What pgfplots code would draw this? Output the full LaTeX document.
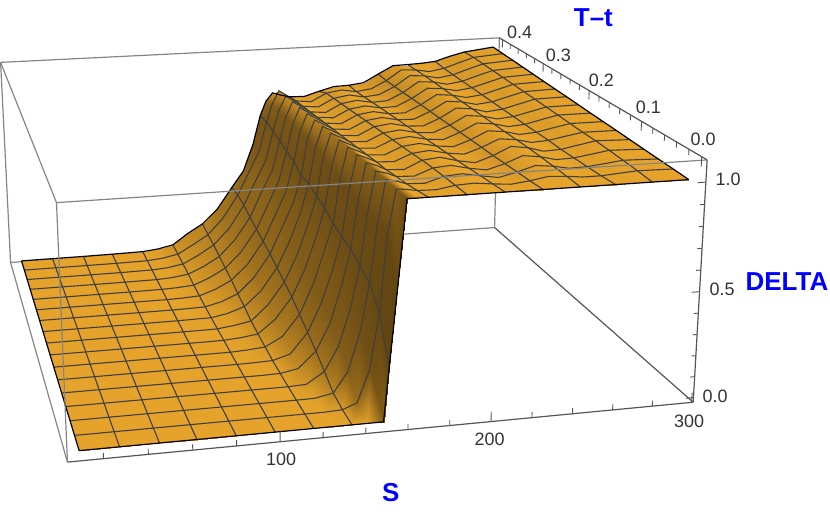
\documentclass[border=0pt]{standalone}
\usepackage{pgfplots}
\usepackage{pgfplotstable}
\pgfplotsset{compat=1.18}
\usepackage{fontspec}
\setmainfont{Liberation Sans}
\definecolor{boxgray}{HTML}{858585}
\definecolor{axdark}{HTML}{555555}
\definecolor{ticktxt}{HTML}{333333}
\definecolor{meshc}{HTML}{3F3F3F}

% camera: box fractions u,v,w and image pixels
\newcommand\pu[1]{(.02+.00337*(#1-10))}
\newcommand\pv[1]{(.02+2.4*(#1))}
\newcommand\pw[1]{(.02+.8914*(#1))}
\newcommand\den[3]{(1+.07791*\pu{#1}+.32475*\pv{#2}-.04*\pw{#3})}
\newcommand\imx[3]{((66+680.99*\pu{#1}-54.08*\pv{#2}-13.2*\pw{#3})/\den{#1}{#2}{#3})}
\newcommand\imy[3]{(512-(463-28.6*\pu{#1}-114.59*\pv{#2}-268.12*\pw{#3})/\den{#1}{#2}{#3})}

\pgfplotstableread[row sep=\\]{
S T D\\
10 .4 0\\ 28 .4 0\\ 46 .4 0\\ 63 .4 .001\\ 81 .4 .003\\ 90 .4 .012\\ 99 .4 .03\\ 108 .4 .09\\ 117 .4 .14\\ 126 .4 .22\\ 135 .4 .34\\ 142 .4 .43\\ 148 .4 .58\\ 152.5 .4 .74\\ 156 .4 .82\\ 160 .4 .865\\ 165 .4 .85\\ 170 .4 .838\\ 179 .4 .835\\ 188 .4 .86\\ 197 .4 .882\\ 206 .4 .885\\ 215 .4 .895\\ 224 .4 .94\\ 233 .4 .983\\ 242 .4 .985\\ 250 .4 .988\\ 259 .4 .995\\ 268 .4 1.02\\ 277 .4 1.04\\ 295 .4 1.06\\
10 .375 0\\ 28 .375 0\\ 46 .375 0\\ 63 .375 0\\ 81 .375 .002\\ 90 .375 .01\\ 99 .375 .027\\ 108 .375 .075\\ 117 .375 .126\\ 126 .375 .215\\ 135 .375 .341\\ 142 .375 .471\\ 148 .375 .583\\ 152.5 .375 .745\\ 156 .375 .843\\ 160 .375 .914\\ 165 .375 .883\\ 170 .375 .852\\ 179 .375 .843\\ 188 .375 .886\\ 197 .375 .899\\ 206 .375 .886\\ 215 .375 .897\\ 224 .375 .938\\ 233 .375 .994\\ 242 .375 .989\\ 250 .375 .976\\ 259 .375 .99\\ 268 .375 1.017\\ 277 .375 1.043\\ 295 .375 1.056\\
10 .35 0\\ 28 .35 0\\ 46 .35 0\\ 63 .35 0\\ 81 .35 .002\\ 90 .35 .008\\ 99 .35 .023\\ 108 .35 .066\\ 117 .35 .118\\ 126 .35 .203\\ 135 .35 .33\\ 142 .35 .461\\ 148 .35 .57\\ 152.5 .35 .732\\ 156 .35 .845\\ 160 .35 .921\\ 165 .35 .891\\ 170 .35 .86\\ 179 .35 .852\\ 188 .35 .8945\\ 197 .35 .908\\ 206 .35 .893\\ 215 .35 .9015\\ 224 .35 .9415\\ 233 .35 .997\\ 242 .35 .991\\ 250 .35 .976\\ 259 .35 .989\\ 268 .35 1.016\\ 277 .35 1.041\\ 295 .35 1.0525\\
10 .325 0\\ 28 .325 0\\ 46 .325 0\\ 63 .325 0\\ 81 .325 .001\\ 90 .325 .006\\ 99 .325 .018\\ 108 .325 .055\\ 117 .325 .105\\ 126 .325 .191\\ 135 .325 .31\\ 142 .325 .451\\ 148 .325 .56\\ 152.5 .325 .72\\ 156 .325 .847\\ 160 .325 .928\\ 165 .325 .898\\ 170 .325 .868\\ 179 .325 .86\\ 188 .325 .903\\ 197 .325 .916\\ 206 .325 .901\\ 215 .325 .9055\\ 224 .325 .945\\ 233 .325 .999\\ 242 .325 .993\\ 250 .325 .977\\ 259 .325 .989\\ 268 .325 1.015\\ 277 .325 1.039\\ 295 .325 1.049\\
10 .3 0\\ 28 .3 0\\ 46 .3 0\\ 63 .3 0\\ 81 .3 .001\\ 90 .3 .004\\ 99 .3 .011\\ 108 .3 .045\\ 117 .3 .092\\ 126 .3 .174\\ 135 .3 .294\\ 142 .3 .431\\ 148 .3 .55\\ 152.5 .3 .706\\ 156 .3 .849\\ 160 .3 .934\\ 165 .3 .906\\ 170 .3 .8775\\ 179 .3 .87\\ 188 .3 .911\\ 197 .3 .924\\ 206 .3 .909\\ 215 .3 .9115\\ 224 .3 .95\\ 233 .3 1\\ 242 .3 .9935\\ 250 .3 .9785\\ 259 .3 .99\\ 268 .3 1.0135\\ 277 .3 1.0365\\ 295 .3 1.045\\
10 .275 0\\ 28 .275 0\\ 46 .275 0\\ 63 .275 0\\ 81 .275 0\\ 90 .275 .002\\ 99 .275 .007\\ 108 .275 .036\\ 117 .275 .079\\ 126 .275 .157\\ 135 .275 .277\\ 142 .275 .416\\ 148 .275 .536\\ 152.5 .275 .693\\ 156 .275 .85\\ 160 .275 .941\\ 165 .275 .914\\ 170 .275 .886\\ 179 .275 .878\\ 188 .275 .92\\ 197 .275 .932\\ 206 .275 .916\\ 215 .275 .916\\ 224 .275 .954\\ 233 .275 1.003\\ 242 .275 .995\\ 250 .275 .979\\ 259 .275 .989\\ 268 .275 1.012\\ 277 .275 1.035\\ 295 .275 1.041\\
10 .25 0\\ 28 .25 0\\ 46 .25 0\\ 63 .25 0\\ 81 .25 0\\ 90 .25 .001\\ 99 .25 .003\\ 108 .25 .024\\ 117 .25 .06\\ 126 .25 .14\\ 135 .25 .26\\ 142 .25 .4\\ 148 .25 .521\\ 152.5 .25 .661\\ 156 .25 .852\\ 160 .25 .947\\ 165 .25 .922\\ 170 .25 .895\\ 179 .25 .888\\ 188 .25 .9285\\ 197 .25 .94\\ 206 .25 .923\\ 215 .25 .9215\\ 224 .25 .9575\\ 233 .25 1.005\\ 242 .25 .997\\ 250 .25 .98\\ 259 .25 .989\\ 268 .25 1.011\\ 277 .25 1.033\\ 295 .25 1.0375\\
10 .225 0\\ 28 .225 0\\ 46 .225 0\\ 63 .225 0\\ 81 .225 0\\ 90 .225 .001\\ 99 .225 .002\\ 108 .225 .018\\ 117 .225 .047\\ 126 .225 .122\\ 135 .225 .239\\ 142 .225 .375\\ 148 .225 .52\\ 152.5 .225 .666\\ 156 .225 .844\\ 160 .225 .954\\ 165 .225 .93\\ 170 .225 .903\\ 179 .225 .896\\ 188 .225 .937\\ 197 .225 .948\\ 206 .225 .93\\ 215 .225 .9265\\ 224 .225 .961\\ 233 .225 1.008\\ 242 .225 .999\\ 250 .225 .98\\ 259 .225 .989\\ 268 .225 1.01\\ 277 .225 1.031\\ 295 .225 1.034\\
10 .2 0\\ 28 .2 0\\ 46 .2 0\\ 63 .2 0\\ 81 .2 0\\ 90 .2 0\\ 99 .2 .001\\ 108 .2 .012\\ 117 .2 .028\\ 126 .2 .104\\ 135 .2 .217\\ 142 .2 .354\\ 148 .2 .51\\ 152.5 .2 .647\\ 156 .2 .841\\ 160 .2 .96\\ 165 .2 .9375\\ 170 .2 .912\\ 179 .2 .9065\\ 188 .2 .945\\ 197 .2 .9555\\ 206 .2 .9375\\ 215 .2 .932\\ 224 .2 .965\\ 233 .2 1.0085\\ 242 .2 1\\ 250 .2 .982\\ 259 .2 .9895\\ 268 .2 1.009\\ 277 .2 1.028\\ 295 .2 1.03\\
10 .175 0\\ 28 .175 0\\ 46 .175 0\\ 63 .175 0\\ 81 .175 0\\ 90 .175 0\\ 99 .175 .001\\ 108 .175 .007\\ 117 .175 .019\\ 126 .175 .086\\ 135 .175 .195\\ 142 .175 .333\\ 148 .175 .495\\ 152.5 .175 .633\\ 156 .175 .833\\ 160 .175 .967\\ 165 .175 .945\\ 170 .175 .921\\ 179 .175 .916\\ 188 .175 .953\\ 197 .175 .963\\ 206 .175 .945\\ 215 .175 .9375\\ 224 .175 .969\\ 233 .175 1.01\\ 242 .175 1.001\\ 250 .175 .983\\ 259 .175 .989\\ 268 .175 1.008\\ 277 .175 1.026\\ 295 .175 1.026\\
10 .15 0\\ 28 .15 0\\ 46 .15 0\\ 63 .15 0\\ 81 .15 0\\ 90 .15 0\\ 99 .15 0\\ 108 .15 .004\\ 117 .15 .012\\ 126 .15 .058\\ 135 .15 .163\\ 142 .15 .307\\ 148 .15 .475\\ 152.5 .15 .604\\ 156 .15 .82\\ 160 .15 .973\\ 165 .15 .953\\ 170 .15 .93\\ 179 .15 .925\\ 188 .15 .961\\ 197 .15 .97\\ 206 .15 .9525\\ 215 .15 .944\\ 224 .15 .973\\ 233 .15 1.0115\\ 242 .15 1.0025\\ 250 .15 .984\\ 259 .15 .99\\ 268 .15 1.007\\ 277 .15 1.023\\ 295 .15 1.0225\\
10 .125 0\\ 28 .125 0\\ 46 .125 0\\ 63 .125 0\\ 81 .125 0\\ 90 .125 0\\ 99 .125 0\\ 108 .125 .001\\ 117 .125 .004\\ 126 .125 .029\\ 135 .125 .13\\ 142 .125 .27\\ 148 .125 .435\\ 152.5 .125 .589\\ 156 .125 .807\\ 160 .125 .979\\ 165 .125 .961\\ 170 .125 .939\\ 179 .125 .935\\ 188 .125 .969\\ 197 .125 .978\\ 206 .125 .96\\ 215 .125 .9495\\ 224 .125 .977\\ 233 .125 1.013\\ 242 .125 1.004\\ 250 .125 .986\\ 259 .125 .991\\ 268 .125 1.006\\ 277 .125 1.02\\ 295 .125 1.019\\
10 .1 0\\ 28 .1 0\\ 46 .1 0\\ 63 .1 0\\ 81 .1 0\\ 90 .1 0\\ 99 .1 0\\ 108 .1 0\\ 117 .1 .002\\ 126 .1 .018\\ 135 .1 .097\\ 142 .1 .224\\ 148 .1 .408\\ 152.5 .1 .579\\ 156 .1 .802\\ 160 .1 .985\\ 165 .1 .969\\ 170 .1 .9455\\ 179 .1 .941\\ 188 .1 .979\\ 197 .1 .988\\ 206 .1 .966\\ 215 .1 .9515\\ 224 .1 .98\\ 233 .1 1.018\\ 242 .1 1.0065\\ 250 .1 .9855\\ 259 .1 .989\\ 268 .1 1.0045\\ 277 .1 1.0195\\ 295 .1 1.015\\
10 .075 0\\ 28 .075 0\\ 46 .075 0\\ 63 .075 0\\ 81 .075 0\\ 90 .075 0\\ 99 .075 0\\ 108 .075 0\\ 117 .075 0\\ 126 .075 .004\\ 135 .075 .059\\ 142 .075 .176\\ 148 .075 .357\\ 152.5 .075 .553\\ 156 .075 .793\\ 160 .075 .989\\ 165 .075 .977\\ 170 .075 .958\\ 179 .075 .954\\ 188 .075 .986\\ 197 .075 .993\\ 206 .075 .974\\ 215 .075 .961\\ 224 .075 .985\\ 233 .075 1.017\\ 242 .075 1.006\\ 250 .075 .988\\ 259 .075 .991\\ 268 .075 1.003\\ 277 .075 1.016\\ 295 .075 1.011\\
10 .05 0\\ 28 .05 0\\ 46 .05 0\\ 63 .05 0\\ 81 .05 0\\ 90 .05 0\\ 99 .05 0\\ 108 .05 0\\ 117 .05 0\\ 126 .05 .001\\ 135 .05 .018\\ 142 .05 .113\\ 148 .05 .296\\ 152.5 .05 .523\\ 156 .05 .784\\ 160 .05 .994\\ 165 .05 .984\\ 170 .05 .969\\ 179 .05 .966\\ 188 .05 .9915\\ 197 .05 .998\\ 206 .05 .983\\ 215 .05 .97\\ 224 .05 .9895\\ 233 .05 1.014\\ 242 .05 1.005\\ 250 .05 .991\\ 259 .05 .993\\ 268 .05 1.002\\ 277 .05 1.012\\ 295 .05 1.0075\\
10 .025 0\\ 28 .025 0\\ 46 .025 0\\ 63 .025 0\\ 81 .025 0\\ 90 .025 0\\ 99 .025 0\\ 108 .025 0\\ 117 .025 0\\ 126 .025 0\\ 135 .025 .004\\ 142 .025 .03\\ 148 .025 .18\\ 152.5 .025 .44\\ 156 .025 .79\\ 160 .025 .997\\ 165 .025 .992\\ 170 .025 .984\\ 179 .025 .982\\ 188 .025 .996\\ 197 .025 1\\ 206 .025 .991\\ 215 .025 .984\\ 224 .025 .994\\ 233 .025 1.008\\ 242 .025 1.003\\ 250 .025 .995\\ 259 .025 .995\\ 268 .025 1.001\\ 277 .025 1.007\\ 295 .025 1.004\\
10 0 0\\ 28 0 0\\ 46 0 0\\ 63 0 0\\ 81 0 0\\ 90 0 0\\ 99 0 0\\ 108 0 0\\ 117 0 0\\ 126 0 0\\ 135 0 0\\ 142 0 0\\ 150 0 0\\ 152.5 0 .25\\ 156 0 .6\\ 160 0 1\\ 165 0 1\\ 170 0 1\\ 179 0 1\\ 188 0 1\\ 197 0 1\\ 206 0 1\\ 215 0 1\\ 224 0 1\\ 233 0 1\\ 242 0 1\\ 250 0 1\\ 259 0 1\\ 268 0 1\\ 277 0 1\\ 295 0 1\\
}\tbl

\pgfplotstablecreatecol[create col/expr={\imx{\thisrow{S}}{\thisrow{T}}{\thisrow{D}}}]{px}\tbl
\pgfplotstablecreatecol[create col/expr={\imy{\thisrow{S}}{\thisrow{T}}{\thisrow{D}}}]{py}\tbl
% brightness from the slope along S
\pgfplotstablecreatecol[create col/assign/.code={%
  \getthisrow{S}\mySa \getthisrow{D}\myDa
  \getnextrow{S}\mySn \getnextrow{D}\myDn
  \getprevrow{S}\mySp \getprevrow{D}\myDp
  \ifx\mySn\empty \let\mySn\mySa \let\myDn\myDa \fi
  \ifx\mySp\empty \let\mySp\mySa \let\myDp\myDa \fi
  \pgfmathparse{\mySn>\mySa ? 1 : 0}%
  \ifdim\pgfmathresult pt<.5pt \let\mySn\mySa \let\myDn\myDa \fi
  \pgfmathparse{\mySp<\mySa ? 1 : 0}%
  \ifdim\pgfmathresult pt<.5pt \let\mySp\mySa \let\myDp\myDa \fi
  \pgfmathsetmacro\myfx{106*(\myDn-\myDp)/(\mySn-\mySp)}%
  \pgfmathsetmacro\mybb{(-.35*\myfx+.94)/sqrt(1+\myfx*\myfx)}%
  \pgfkeyslet{/pgfplots/table/create col/next content}\mybb
}]{b}\tbl

\newcount\cnt
\pgfplotsset{
  colkeep/.style={x filter/.code={\cnt=\coordindex\relax \divide\cnt by 31 \multiply\cnt by 31 \advance\cnt by #1\relax
    \ifnum\cnt=\coordindex\else\let\pgfmathresult\empty\fi}},
  rowkeep/.style={x filter/.code={\cnt=\coordindex\relax \divide\cnt by 31\relax
    \ifnum\cnt=#1\else\let\pgfmathresult\empty\fi}},
}
\newcommand\boxline[2]{\addplot[#1] table[row sep=\\,
  x expr={\imx{\thisrow{S}}{\thisrow{T}}{\thisrow{D}}},
  y expr={\imy{\thisrow{S}}{\thisrow{T}}{\thisrow{D}}}]{S T D\\ #2};}

\begin{document}
\begin{tikzpicture}
\begin{axis}[
  at={(0,0)}, anchor=south west,
  width=830pt, height=512pt, scale only axis,
  xmin=0, xmax=830, ymin=0, ymax=512,
  view={0}{90}, hide axis, clip=false,
  colormap={orange}{rgb255(0)=(88,62,16); rgb255(1)=(236,168,44)},
  point meta min=-.35, point meta max=1,
]
% back of the box
\boxline{boxgray,line width=1.2pt}{4.07 .40833 1.0994\\ 4.07 .40833 -.0224\\ 300.8 .40833 -.0224\\ 300.8 .40833 1.0994\\ 4.07 .40833 1.0994\\}
\boxline{boxgray,line width=1.2pt}{4.07 .40833 1.0994\\ 4.07 -.00833 1.0994\\}
\boxline{boxgray,line width=1.2pt}{4.07 .40833 -.0224\\ 4.07 -.00833 -.0224\\}
\boxline{axdark,line width=1.2pt}{300.8 .40833 -.0224\\ 300.8 -.00833 -.0224\\}

% the surface
\addplot3[surf, shader=interp, mesh/cols=31, point meta=\thisrow{b}] table[x=px, y=py, z expr=0] {\tbl};

% mesh
\pgfplotsinvokeforeach{1,...,15}{
  \addplot[meshc, line width=1.1pt, rowkeep=#1] table[x=px, y=py] {\tbl};
}
\pgfplotsinvokeforeach{1,2,3,4,6,8,10,13,17,19,21,23,25,27,29}{
  \addplot[meshc, line width=1.1pt, colkeep=#1] table[x=px, y=py] {\tbl};
}
% outline
\addplot[black, line width=1.2pt, rowkeep=0] table[x=px, y=py] {\tbl};
\addplot[black, line width=1.2pt, rowkeep=16] table[x=px, y=py] {\tbl};
\addplot[black, line width=1.2pt, colkeep=0] table[x=px, y=py] {\tbl};
\addplot[black, line width=1.2pt, colkeep=30] table[x=px, y=py] {\tbl};

% front of the box
\boxline{boxgray,line width=1.2pt}{4.07 -.00833 1.0994\\ 300.8 -.00833 1.0994\\}
\boxline{boxgray,line width=1.2pt}{4.07 -.00833 1.0994\\ 4.07 -.00833 -.0224\\}
\boxline{axdark,line width=1.2pt}{4.07 -.00833 -.0224\\ 300.8 -.00833 -.0224\\}
\boxline{axdark,line width=1.2pt}{300.8 -.00833 -.0224\\ 300.8 -.00833 1.0994\\}
\boxline{axdark,line width=1.2pt}{300.8 -.00833 1.0994\\ 300.8 .40833 1.0994\\}

% ticks
\pgfplotsinvokeforeach{20,40,60,80,120,140,160,180,220,240,260,280}{
  \boxline{axdark,line width=.9pt}{#1 -.00833 -.0224\\ #1 -.00833 .004\\}}
\pgfplotsinvokeforeach{100,200,300}{
  \boxline{axdark,line width=.9pt}{#1 -.00833 -.0224\\ #1 -.00833 .024\\}}
\pgfplotsinvokeforeach{.02,.04,.06,.08,.12,.14,.16,.18,.22,.24,.26,.28,.32,.34,.36,.38}{
  \boxline{axdark,line width=.9pt}{300.8 #1 1.0994\\ 300.8 #1 1.073\\}}
\pgfplotsinvokeforeach{0,.1,.2,.3,.4}{
  \boxline{axdark,line width=.9pt}{300.8 #1 1.0994\\ 300.8 #1 1.055\\}}
\pgfplotsinvokeforeach{.1,.2,.3,.4,.6,.7,.8,.9}{
  \boxline{axdark,line width=.9pt}{300.8 -.00833 #1\\ 298.5 -.00833 #1\\}}
\pgfplotsinvokeforeach{0,.5,1}{
  \boxline{axdark,line width=.9pt}{300.8 -.00833 #1\\ 296.8 -.00833 #1\\}}

% tick labels
\begin{scope}[every node/.style={font=\fontsize{18}{20}\selectfont, text=ticktxt, inner sep=0pt}]
\node at (axis cs:280,52,0) {100};
\node at (axis cs:489,72,0) {200};
\node at (axis cs:689,90,0) {300};
\node at (axis cs:715,115,0) {0.0};
\node at (axis cs:722,222,0) {0.5};
\node at (axis cs:728,332,0) {1.0};
\node at (axis cs:703,372,0) {0.0};
\node at (axis cs:648,404,0) {0.1};
\node at (axis cs:601,432,0) {0.2};
\node at (axis cs:558,457,0) {0.3};
\node at (axis cs:519,480,0) {0.4};
\end{scope}
\begin{scope}[every node/.style={font=\fontsize{26}{28}\selectfont\bfseries, text=blue, inner sep=0pt}]
\node at (axis cs:390,18,0) {S};
\node at (axis cs:593,494,0) {T–t};
\node at (axis cs:787,230,0) {DELTA};
\end{scope}
\end{axis}
\path[use as bounding box] (0,0) rectangle (830pt,512pt);
\end{tikzpicture}
\end{document}
